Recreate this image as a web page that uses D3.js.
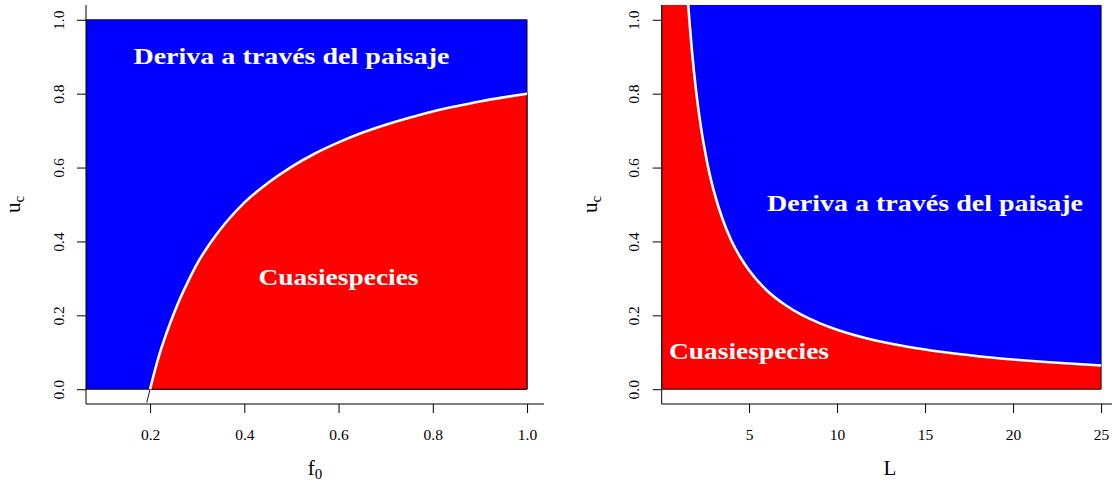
<!DOCTYPE html>
<html>
<head>
<meta charset="utf-8">
<script src="https://cdn.jsdelivr.net/npm/d3@7"></script>
<style>
  html, body { margin: 0; padding: 0; background: #fff; }
  svg { display: block; }
  text { font-family: "Liberation Serif", "DejaVu Serif", serif; }
</style>
</head>
<body>
<svg id="chart" width="1112" height="483"></svg>
<script>
// Error threshold u_c as a function of the fitness f0 (left panel)
const leftF0 = [0.193, 0.20, 0.21, 0.22, 0.24, 0.26, 0.28, 0.30, 0.33, 0.36, 0.40, 0.45,
                0.50, 0.55, 0.60, 0.65, 0.70, 0.75, 0.80, 0.85, 0.90, 0.95, 1.00];
const leftUc = [-0.036, 0.00, 0.05, 0.095, 0.17, 0.235, 0.29, 0.34, 0.40, 0.45, 0.505, 0.558,
                0.602, 0.638, 0.668, 0.694, 0.716, 0.735, 0.752, 0.766, 0.779, 0.790, 0.800];

// Error threshold u_c as a function of the sequence length L (right panel)
const rightL  = [1.5, 1.6, 1.75, 2, 2.25, 2.5, 2.75, 3, 3.5, 4, 4.5, 5, 6, 7, 8, 9, 10,
                 12, 14, 16, 18, 20, 22.5, 25];
const rightUc = [1.07, 1.006, 0.92, 0.805, 0.715, 0.644, 0.585, 0.537, 0.46, 0.402, 0.358,
                 0.322, 0.268, 0.23, 0.201, 0.179, 0.161, 0.134, 0.115, 0.1006, 0.0894,
                 0.0805, 0.0715, 0.0644];

// Tick values
const leftXTicks  = [0.2, 0.4, 0.6, 0.8, 1.0];
const rightXTicks = [5, 10, 15, 20, 25];
const yTicks      = [0.0, 0.2, 0.4, 0.6, 0.8, 1.0];

// Region labels
const labelDrift = "Deriva a través del paisaje";
const labelQuasi = "Cuasiespecies";

const BLUE = "#0000ff", RED = "#ff0000";

const svg = d3.select("#chart");

// Axis limits padded by 4% on each side
function padded(lo, hi) { const d = (hi - lo) * 0.04; return [lo - d, hi + d]; }

const yDom = padded(0, 1);
const plotTop = 5, plotBottom = 404;

function drawAxes(g, x, y, xTicks, xFmt, xLabelFn, yLabelX) {
  const [x0, x1] = x.range();
  // L-shaped frame along the plot region
  g.append("line").attr("x1", x0).attr("x2", x0).attr("y1", plotTop).attr("y2", plotBottom)
    .attr("stroke", "#000").attr("stroke-width", 1);
  g.append("line").attr("x1", x0).attr("x2", x1).attr("y1", plotBottom).attr("y2", plotBottom)
    .attr("stroke", "#000").attr("stroke-width", 1);

  const ax = g.append("g").attr("transform", `translate(0,${plotBottom})`)
    .call(d3.axisBottom(x).tickValues(xTicks).tickFormat(xFmt).tickSize(9));
  ax.select(".domain").remove();
  ax.selectAll(".tick line").attr("stroke", "#000");
  ax.selectAll(".tick text").attr("y", 35.5).attr("dy", 0)
    .attr("font-size", "15.5px").attr("fill", "#000")
    .style("font-family", '"Liberation Serif", serif');

  const ay = g.append("g").attr("transform", `translate(${x0},0)`)
    .call(d3.axisLeft(y).tickValues(yTicks).tickFormat(d3.format(".1f")).tickSize(9));
  ay.select(".domain").remove();
  ay.selectAll(".tick line").attr("stroke", "#000");
  ay.selectAll(".tick text")
    .attr("x", null).attr("dy", 0)
    .attr("text-anchor", "middle")
    .attr("transform", "translate(-22.5,0) rotate(-90)")
    .attr("font-size", "15.5px").attr("fill", "#000")
    .style("font-family", '"Liberation Serif", serif');

  // x title
  xLabelFn(g.append("text")
    .attr("x", (x0 + x1) / 2).attr("y", 475)
    .attr("text-anchor", "middle").attr("font-size", "21px").attr("fill", "#000"));

  // y title: u_c
  const yt = g.append("text")
    .attr("text-anchor", "middle").attr("font-size", "21px").attr("fill", "#000")
    .attr("transform", `translate(${yLabelX},${(plotTop + plotBottom) / 2}) rotate(-90)`);
  yt.append("tspan").text("u");
  yt.append("tspan").attr("font-size", "15px").attr("dy", 4).text("c");
}

function regionLabel(g, x, y, px, py, text, width) {
  g.append("text")
    .attr("x", x(px)).attr("y", y(py)).attr("dy", "0.3em")
    .attr("text-anchor", "middle")
    .attr("font-size", "23px").attr("font-weight", "bold").attr("fill", "#fff")
    .attr("textLength", width).attr("lengthAdjust", "spacingAndGlyphs")
    .text(text);
}

// ---------------- Left panel: u_c vs f0 ----------------
{
  const xDom = padded(0.1, 1.0);
  const x = d3.scaleLinear(xDom, [86, 544]);
  const y = d3.scaleLinear(yDom, [plotBottom, plotTop]);
  const g = svg.append("g");

  g.append("clipPath").attr("id", "clipL").append("rect")
    .attr("x", 86).attr("y", plotTop).attr("width", 544 - 86).attr("height", plotBottom - plotTop);
  const plot = g.append("g").attr("clip-path", "url(#clipL)");

  const pts = leftF0.map((f, i) => [f, leftUc[i]]);
  const above = pts.filter(p => p[1] >= 0);
  const line = d3.line().x(d => x(d[0])).y(d => y(d[1]));

  // drift region: whole rectangle up to u = 1
  plot.append("path")
    .attr("d", line([[xDom[0], 0], [xDom[0], 1], [1, 1], [1, 0]]) + "Z")
    .attr("fill", BLUE).attr("stroke", "#000").attr("stroke-width", 0.9);

  // quasispecies region below the threshold curve
  const redPoly = above.concat([[1, 0]]);
  plot.append("path")
    .attr("d", line(redPoly) + "Z")
    .attr("fill", RED).attr("stroke", "#000").attr("stroke-width", 0.9);

  // thin continuation of the threshold below zero
  plot.append("path").attr("d", line(pts))
    .attr("fill", "none").attr("stroke", "#000").attr("stroke-width", 0.9);

  // threshold curve
  plot.append("path").attr("d", d3.line().curve(d3.curveMonotoneX)
      .x(d => x(d[0])).y(d => y(d[1]))(above))
    .attr("fill", "none").attr("stroke", "#fff").attr("stroke-width", 2.6);

  regionLabel(g, x, y, 0.5, 0.9, labelDrift, 316);
  regionLabel(g, x, y, 0.6, 0.3, labelQuasi, 160);

  drawAxes(g, x, y, leftXTicks, d3.format(".1f"), t => {
    t.append("tspan").text("f");
    t.append("tspan").attr("font-size", "15px").attr("dy", 4).text("0");
  }, 20);
}

// ---------------- Right panel: u_c vs L ----------------
{
  const xDom = padded(1, 25);
  const x = d3.scaleLinear(xDom, [661.7, 1118]);
  const y = d3.scaleLinear(yDom, [plotBottom, plotTop]);
  const g = svg.append("g");

  g.append("clipPath").attr("id", "clipR").append("rect")
    .attr("x", 661.7).attr("y", plotTop).attr("width", 1118 - 661.7).attr("height", plotBottom - plotTop);
  const plot = g.append("g").attr("clip-path", "url(#clipR)");

  const pts = rightL.map((l, i) => [l, rightUc[i]]);
  const line = d3.line().x(d => x(d[0])).y(d => y(d[1]));
  const last = pts[pts.length - 1];
  const first = pts[0];

  // quasispecies region below the curve
  const redPoly = [[xDom[0], 0], [xDom[0], 1.2]].concat(pts, [[last[0], 0]]);
  plot.append("path").attr("d", line(redPoly) + "Z")
    .attr("fill", RED).attr("stroke", "#000").attr("stroke-width", 0.9);

  // drift region above the curve
  const bluePoly = pts.concat([[last[0], 1.2], [first[0], 1.2]]);
  plot.append("path").attr("d", line(bluePoly) + "Z")
    .attr("fill", BLUE).attr("stroke", "#000").attr("stroke-width", 0.9);

  // threshold curve
  plot.append("path").attr("d", d3.line().curve(d3.curveMonotoneX)
      .x(d => x(d[0])).y(d => y(d[1]))(pts))
    .attr("fill", "none").attr("stroke", "#fff").attr("stroke-width", 2.6);

  regionLabel(g, x, y, 15, 0.5, labelDrift, 316);
  regionLabel(g, x, y, 5, 0.1, labelQuasi, 160);

  drawAxes(g, x, y, rightXTicks, d3.format("d"), t => {
    t.text("L");
  }, 597);
}
</script>
</body>
</html>
